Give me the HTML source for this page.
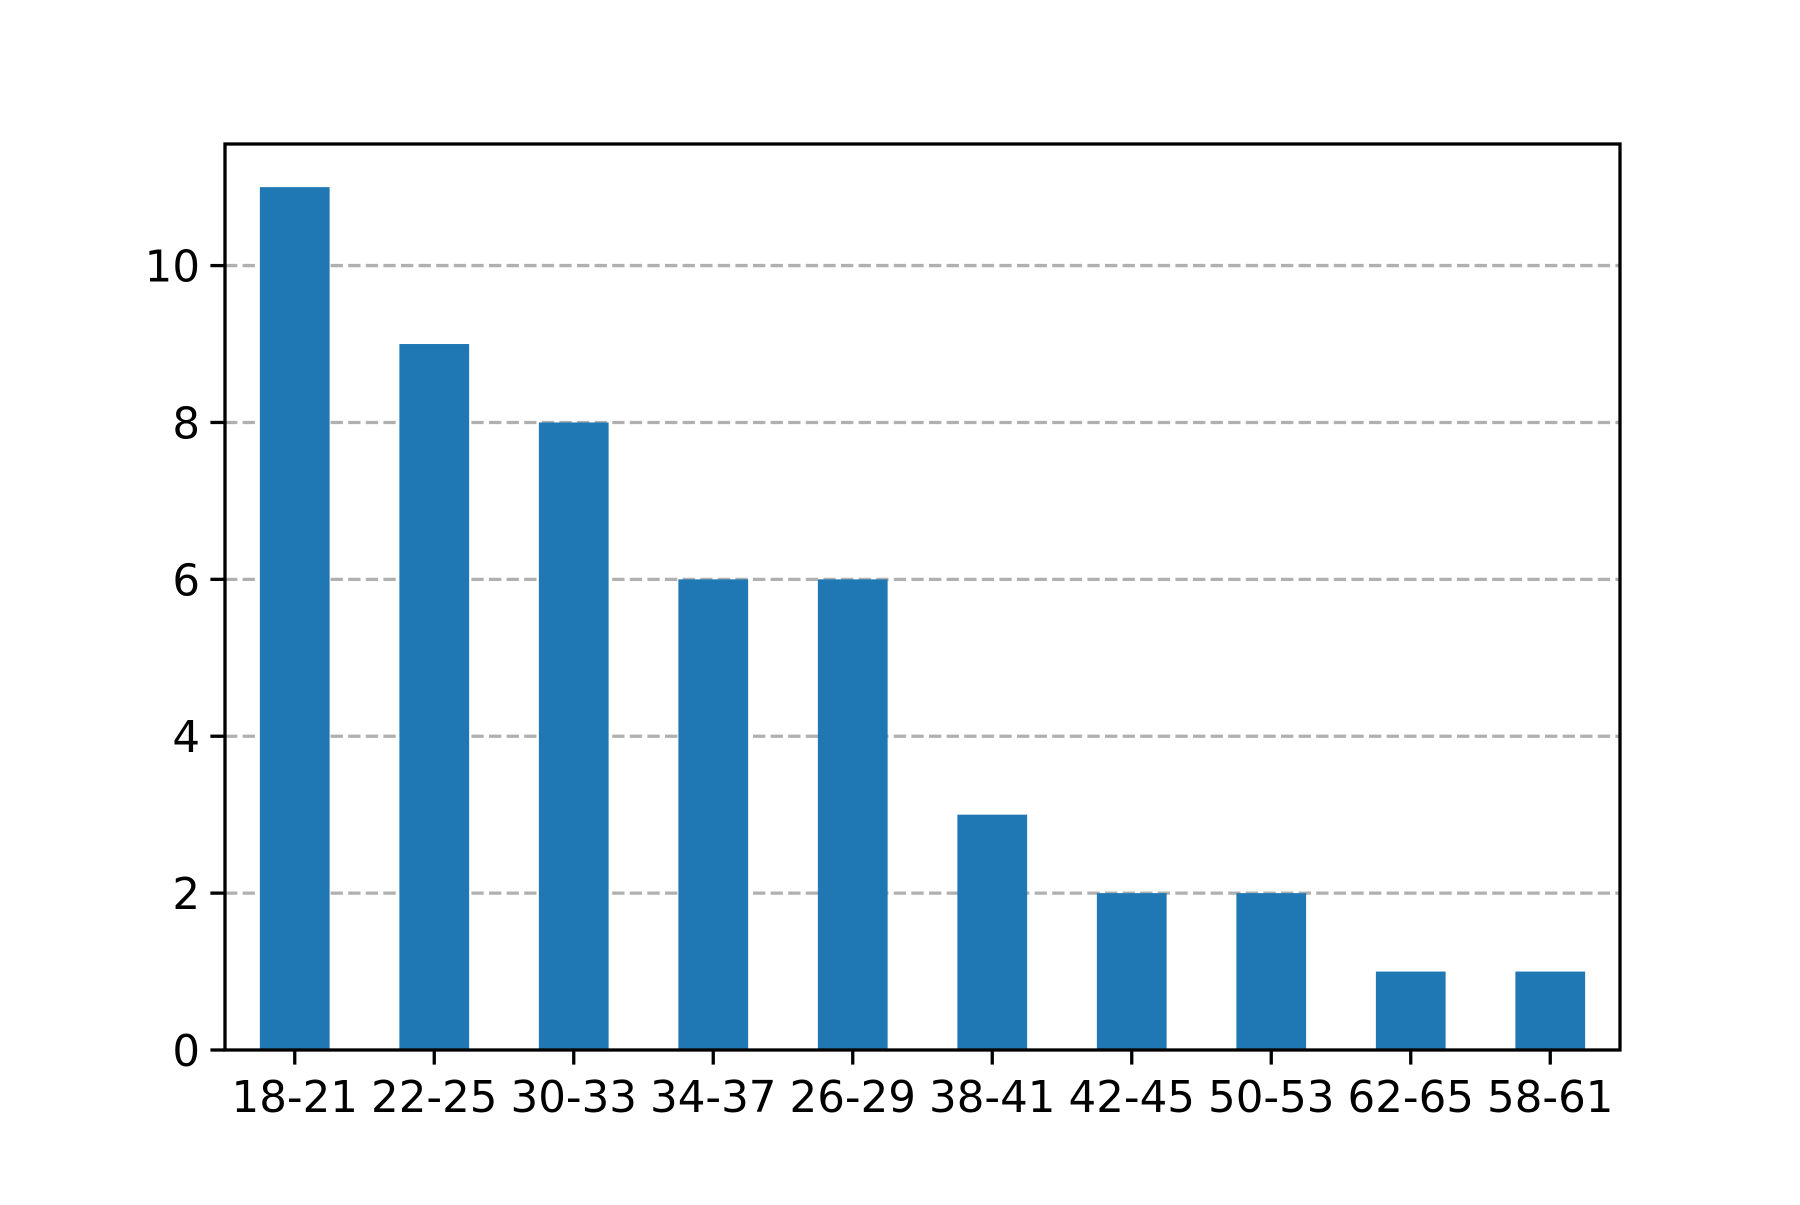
<!DOCTYPE html>
<html><head><meta charset="utf-8"><style>
html,body{margin:0;padding:0;background:#fff;}
svg text{font-family:"DejaVu Sans","Liberation Sans",sans-serif;font-size:43.5px;fill:#000;}
</style></head><body>
<svg id="chart" width="1800" height="1200" xmlns="http://www.w3.org/2000/svg">
<rect width="1800" height="1200" fill="#fff"/>
<g id="grid"></g>
<g id="bars"></g>
<g id="axes"></g>
</svg>
<script>
const categories = ["18-21","22-25","30-33","34-37","26-29","38-41","42-45","50-53","62-65","58-61"];
const values = [11,9,8,6,6,3,2,2,1,1];
const yTicks = [0,2,4,6,8,10];
const L=225,R=1620,T=144,B=1050;
const yMax = Math.max(...values)*1.05;
const n = categories.length;
const NS="http://www.w3.org/2000/svg";
function x(i){return L+(i+0.5)*(R-L)/n;}
function y(v){return B-v*(B-T)/yMax;}
const bw=0.5*(R-L)/n;
function mk(tag,attrs,parent){const e=document.createElementNS(NS,tag);for(const k in attrs)e.setAttribute(k,attrs[k]);parent.appendChild(e);return e;}
const grid=document.getElementById('grid'),bars=document.getElementById('bars'),axes=document.getElementById('axes');
yTicks.forEach(t=>{
  if(t>0){const g=mk('line',{x1:L,x2:R,y1:y(t),y2:y(t),stroke:'#b0b0b0','stroke-width':3.3,'stroke-dasharray':'12.3,5.3'},grid);
  
  }
  const tk=mk('line',{x1:L-14.6,x2:L,y1:y(t),y2:y(t),stroke:'#000','stroke-width':3.3},axes);
  
  
  const tx=mk('text',{x:L-25,y:y(t)+16,'text-anchor':'end'},axes);tx.textContent=t;
  
  
});
categories.forEach((c,i)=>{
  const r=mk('rect',{x:x(i)-bw/2,y:y(values[i]),width:bw,height:B-y(values[i]),fill:'#1f77b4'},bars);
  
  
  const tk=mk('line',{x1:x(i),x2:x(i),y1:B,y2:B+14.6,stroke:'#000','stroke-width':3.3},axes);
  
  
  const tx=mk('text',{x:x(i),y:1112,'text-anchor':'middle'},axes);tx.textContent=c;
  
  
});
const fr=mk('rect',{x:L,y:T,width:R-L,height:B-T,fill:'none',stroke:'#000','stroke-width':3.3},axes);


</script>
</body></html>
